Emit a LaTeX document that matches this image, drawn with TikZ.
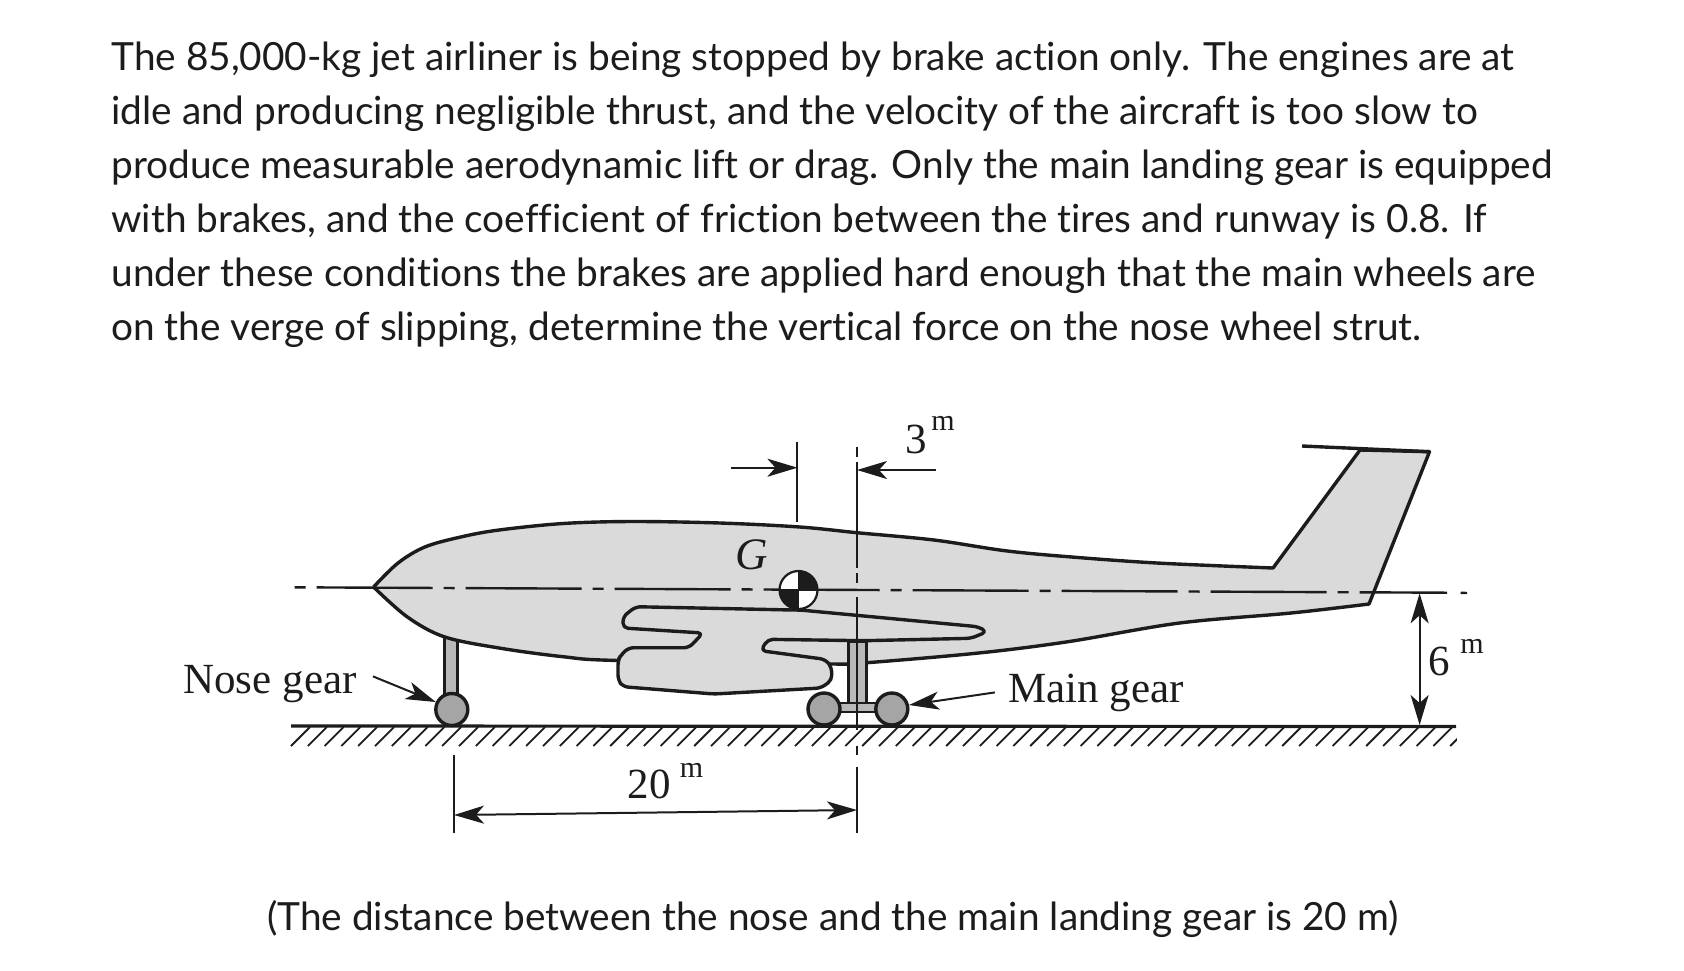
\documentclass[tikz,border=0pt]{standalone}
\usepackage{fontspec}
\usetikzlibrary{arrows.meta}
\setmainfont{Liberation Serif}
\newfontfamily\promptfont[Ligatures=CommonOff]{Lato}
\definecolor{skin-color}{RGB}{218,218,218}
\definecolor{tyre-color}{RGB}{165,165,165}
\definecolor{strut-color}{RGB}{185,185,185}
\definecolor{ink-color}{RGB}{28,28,28}
\tikzset{
	prompt/.style={anchor=base west,inner sep=0pt,font=\promptfont\fontsize{19.4pt}{21pt}\selectfont,text=ink-color},
	figlabel/.style={anchor=base,inner sep=0pt,font=\fontsize{21.5pt}{24pt}\selectfont,text=ink-color},
	unitlabel/.style={anchor=base,inner sep=0pt,font=\fontsize{15pt}{17pt}\selectfont,text=ink-color},
	skin/.style={fill=skin-color,draw=ink-color,line width=1.7pt,line join=round},
	wheel/.style={circle,fill=tyre-color,draw=ink-color,line width=1.7pt,minimum size=16pt,inner sep=0pt},
	strut/.style={fill=strut-color,draw=ink-color,line width=1.5pt},
	refline/.style={draw=ink-color,line width=1pt},
	dimline/.style={draw=ink-color,line width=1pt,{Stealth[length=15pt,width=9pt,inset=4pt]}-{Stealth[length=15pt,width=9pt,inset=4pt]}},
	dimone/.style={draw=ink-color,line width=1pt,-{Stealth[length=15pt,width=9pt,inset=4pt]}},
}

\begin{document}
\begin{tikzpicture}[x=0.5pt,y=-0.5pt]
	\useasboundingbox (0,0) rectangle (1684,970);

	% problem text
	\node[prompt] (line1) at (111,70) {The 85,000-kg jet airliner is being stopped by brake action only. The engines are at};
	\node[prompt] (line2) at (111,124) {idle and producing negligible thrust, and the velocity of the aircraft is too slow to};
	\node[prompt] (line3) at (111,178) {produce measurable aerodynamic lift or drag. Only the main landing gear is equipped};
	\node[prompt] (line4) at (111,232) {with brakes, and the coefficient of friction between the tires and runway is 0.8. If};
	\node[prompt] (line5) at (111,286) {under these conditions the brakes are applied hard enough that the main wheels are};
	\node[prompt] (line6) at (111,340) {on the verge of slipping, determine the vertical force on the nose wheel strut.};
	\node[prompt,anchor=base] (caption) at (833,930) {(The distance between the nose and the main landing gear is 20 m)};

	% ground
	\foreach \x in {310,326.8,...,1470}
		\draw[line width=0.9pt,ink-color] (\x,727) -- (\x-19,746);
	\fill[white] (1456.5,720) rectangle (1490,750);
	\draw[line width=1.6pt,ink-color] (291,726) -- (1456,726.5);

	% nose strut goes behind the body
	\draw[strut] (444,630) rectangle (457,700);

	% body and fin
	\draw[skin] plot[smooth,tension=0.55] coordinates {(373.6,587) (398,563) (425.5,546.7) (462,536.7) (499,530) (563,523.5) (632,521.5) (720,523) (800,527) (857,532.7) (934,540) (1005,550.7) (1068,556.7) (1157,563) (1273,568)}
		-- (1360,450) -- (1429.5,451.7) -- (1369,604)
		-- plot[smooth,tension=0.55] coordinates {(1369,604) (1291,613) (1179.5,623) (1068,641.7) (978.6,653) (867,662.7) (833,664) (618,660.5) (563,656.7) (499,648) (444,636.7) (407,616.7) (373.6,587)};
	\draw[line width=1.7pt,ink-color] (1302,446) -- (1429.5,451.7);

	% main gear
	\draw[strut] (848,641) rectangle (866,703);
	\draw[strut,line width=1.2pt] (836,703) rectangle (880,712);
	\node[wheel] (nosewheel) at (451.8,709.5) {};
	\node[wheel] (leftwheel) at (824,709) {};
	\node[wheel] (rightwheel) at (891.8,709) {};

	% wing and engine in one outline
	\draw[skin,rounded corners=2.5pt] (618,660) -- (618,680) -- (623,686.7) -- (714,694) -- (821,688) -- (832,680) -- (831.4,666.7) -- (825,659.3) -- (760.7,650.7) -- (767.9,639.3) -- (864,640.7) -- (971,638.3) -- (987,631.7) -- (978,626.7) -- (800,610) -- (793,610) -- (635.7,606.7) -- (623,616.7) -- (623,628) -- (703,633) -- (689,647.7) -- (628.6,647.7) -- (621,655) -- cycle;

	% reference lines
	\draw[refline,dash pattern=on 5.5pt off 5.5pt on 58pt off 5.5pt,line width=1.2pt] (294.6,587.3) -- (1447,592.7);
	\draw[refline,line width=1.2pt] (1460.7,592.8) -- (1467,593);
	\draw[refline] (797.4,441.7) -- (797.4,521.7);
	\draw[refline] (857,446.7) -- (857,456.7);
	\draw[refline] (857,461.7) -- (857,568);
	\draw[refline] (857,573) -- (857,583);
	\draw[refline] (857,596.7) -- (857,730);
	\draw[refline] (857,746) -- (857,755);
	\draw[refline] (857,766.7) -- (857,833);
	\draw[refline] (454,755) -- (454,833);

	% mass centre
	\coordinate (gmark) at (798.5,590);
	\fill[white] (gmark) circle[radius=19];
	\fill[ink-color] (gmark) -- +(19,0) arc[start angle=0,end angle=-90,radius=19] -- cycle;
	\fill[ink-color] (gmark) -- +(-19,0) arc[start angle=180,end angle=90,radius=19] -- cycle;
	\draw[ink-color,line width=1.1pt] (gmark) circle[radius=19];
	\draw[ink-color,line width=0.8pt] (798.5,571) -- (798.5,609) (779.5,590) -- (817.5,590);
	\node[figlabel,font=\itshape\fontsize{22.5pt}{24pt}\selectfont] (gname) at (752,569) {G};

	% gear labels
	\node[figlabel,inner xsep=8pt] (nosegear) at (270,693) {Nose gear};
	\node[figlabel,inner xsep=6.5pt] (maingear) at (1096,702) {Main gear};
	\draw[dimone] (nosegear.4) -- (nosewheel.155);
	\draw[dimone] (maingear.west) -- (rightwheel.13);

	% dimensions
	\coordinate (gstart) at (730.8,467.7);
	\coordinate (gend) at (797.4,467.7);
	\coordinate (mstart) at (936,470);
	\coordinate (mend) at (857,470);
	\draw[dimone] (gstart) -- (gend);
	\draw[dimone] (mstart) -- (mend);
	\node[figlabel] (threem) at (916,453) {3};
	\node[unitlabel] (threeunit) at (943,430) {m};

	\coordinate (spanleft) at (454,815);
	\coordinate (spanright) at (857,810);
	\draw[dimline] (spanleft) -- (spanright);
	\node[figlabel] (twentym) at (649,798) {20};
	\node[unitlabel] (twentyunit) at (691.5,777) {m};

	\coordinate (hightop) at (1419.6,593.3);
	\coordinate (highlow) at (1419.6,725);
	\draw[dimline] (hightop) -- (highlow);
	\node[figlabel] (sixm) at (1439.5,675) {6};
	\node[unitlabel] (sixunit) at (1472,653) {m};
\end{tikzpicture}
\end{document}
